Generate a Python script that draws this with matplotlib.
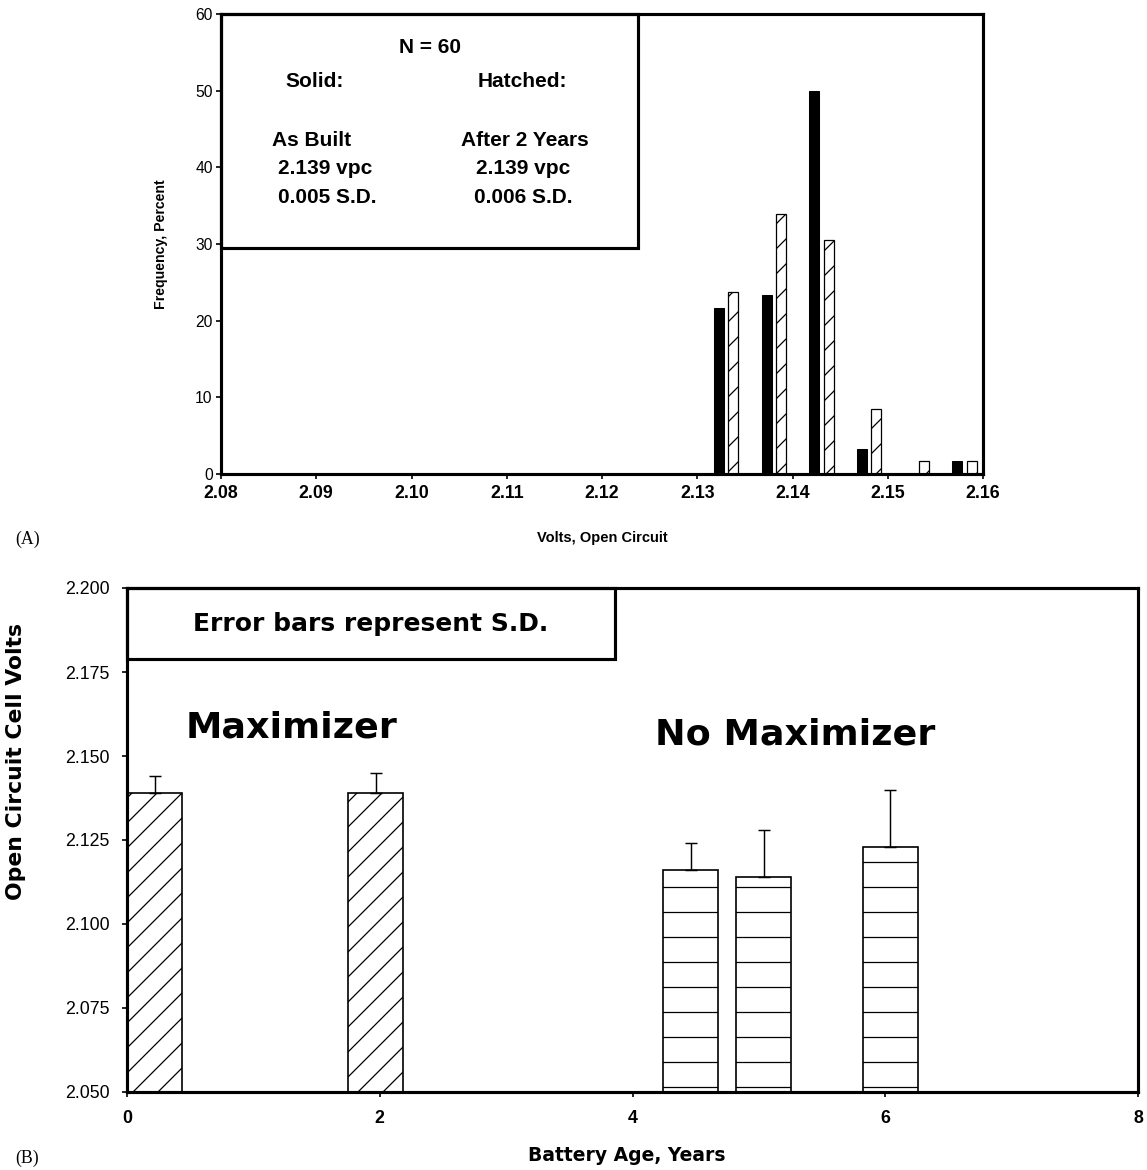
import numpy as np
import matplotlib.pyplot as plt
from matplotlib.patches import Rectangle

plt.rcParams['hatch.linewidth'] = 0.6
plt.rcParams['font.family'] = ['Liberation Sans', 'DejaVu Sans']

# (A) histogram of open circuit volts, percent of cells
volt_bins = [2.1325, 2.1375, 2.1425, 2.1475, 2.1525, 2.1575]
as_built = [21.7, 23.3, 50.0, 3.3, 0.0, 1.7]
after_2yr = [23.7, 33.9, 30.5, 8.5, 1.7, 1.7]
volt_ticks = [2.08, 2.09, 2.10, 2.11, 2.12, 2.13, 2.14, 2.15, 2.16]

# (B) mean open circuit volts vs battery age
age_max = [0.22, 1.97]
volts_max = [2.139, 2.139]
sd_max = [0.005, 0.006]
age_nomax = [4.46, 5.04, 6.04]
volts_nomax = [2.116, 2.114, 2.123]
sd_nomax = [0.008, 0.014, 0.017]
volt_yticks = [2.05, 2.075, 2.1, 2.125, 2.15, 2.175, 2.2]

fig = plt.figure(figsize=(1147 / 150, 1170 / 150), dpi=150)

# ---------- panel A ----------
ax1 = fig.add_axes([221 / 1147, 1 - 474 / 1170, 762 / 1147, 460 / 1170])
x = np.array(volt_bins)
w = 0.00105
ax1.bar(x - 0.0002, as_built, width=w, color='black', edgecolor='black', linewidth=0.5)
ax1.bar(x + 0.0013, after_2yr, width=w, color='white', edgecolor='black',
        linewidth=0.6, hatch='//')
ax1.set_xlim(2.08, 2.16)
ax1.set_ylim(0, 60)
ax1.set_xticks(volt_ticks)
ax1.set_xticklabels(['%.2f' % v for v in volt_ticks], fontsize=8.5, fontweight='bold')
ax1.set_yticks(range(0, 61, 10))
ax1.tick_params(axis='y', labelsize=7.5, length=2.5, width=0.8, direction='out', pad=1.5)
ax1.tick_params(axis='x', length=2.5, width=0.8, direction='out', pad=3)
for s in ax1.spines.values():
    s.set_linewidth(1.5)
ax1.set_xlabel('Volts, Open Circuit', fontsize=7, fontweight='bold')
ax1.xaxis.set_label_coords(0.5, -0.123)
ax1.set_ylabel('Frequency, Percent', fontsize=6.8, fontweight='bold')
ax1.yaxis.set_label_coords(-0.07, 0.5)

ax1.add_patch(Rectangle((2.08, 29.5), 0.0438, 30.5, fill=False, edgecolor='black',
                        linewidth=1.5, clip_on=False, zorder=3))
box_font = dict(fontsize=10, fontweight='bold', ha='center', va='center',
                transform=ax1.transAxes)
ax1.text(0.274, 0.928, 'N = 60', **box_font)
ax1.text(0.123, 0.854, 'Solid:', **box_font)
ax1.text(0.396, 0.854, 'Hatched:', **box_font)
ax1.text(0.119, 0.726, 'As Built', **box_font)
ax1.text(0.399, 0.726, 'After 2 Years', **box_font)
ax1.text(0.136, 0.665, '2.139 vpc', **box_font)
ax1.text(0.139, 0.602, '0.005 S.D.', **box_font)
ax1.text(0.396, 0.665, '2.139 vpc', **box_font)
ax1.text(0.396, 0.602, '0.006 S.D.', **box_font)

fig.text(15 / 1147, 1 - 539 / 1170, '(A)', fontsize=8.5, family='Liberation Serif',
         va='center', ha='left')

# ---------- panel B ----------
ax2 = fig.add_axes([127 / 1147, 1 - 1092 / 1170, 1011 / 1147, 504 / 1170])
bw = 0.435
err_style = dict(elinewidth=0.7, capthick=0.7, ecolor='black')
ax2.bar(age_max, np.array(volts_max) - 2.05, bottom=2.05, width=bw, color='white',
        edgecolor='black', linewidth=0.8, hatch='//',
        yerr=[np.zeros(len(sd_max)), sd_max], capsize=3, error_kw=err_style)
ax2.bar(age_nomax, np.array(volts_nomax) - 2.05, bottom=2.05, width=bw, color='white',
        edgecolor='black', linewidth=0.8, hatch='-',
        yerr=[np.zeros(len(sd_nomax)), sd_nomax], capsize=3, error_kw=err_style)
ax2.set_xlim(0, 8)
ax2.set_ylim(2.05, 2.2)
ax2.set_xticks([0, 2, 4, 6, 8])
ax2.set_xticklabels(['0', '2', '4', '6', '8'], fontsize=8.5, fontweight='bold')
ax2.set_yticks(volt_yticks)
ax2.set_yticklabels(['%.3f' % v for v in volt_yticks], fontsize=8.5)
ax2.tick_params(length=2.5, width=0.8, direction='out')
ax2.tick_params(axis='x', pad=6)
ax2.tick_params(axis='y', pad=6)
for s in ax2.spines.values():
    s.set_linewidth(1.5)
ax2.set_xlabel('Battery Age, Years', fontsize=9, fontweight='bold',
               family='DejaVu Sans')
ax2.xaxis.set_label_coords(0.494, -0.108)
ax2.set_ylabel('Open Circuit Cell Volts', fontsize=10.5, fontweight='bold',
               family='DejaVu Sans')
ax2.yaxis.set_label_coords(-0.1, 0.655)

ax2.add_patch(Rectangle((0, 2.179), 3.86, 0.021, fill=False, edgecolor='black',
                        linewidth=1.5, clip_on=False, zorder=3))
ax2.text(1.93, 2.1893, 'Error bars represent S.D.', fontsize=12, fontweight='bold',
         family='DejaVu Sans', ha='center', va='center')
ax2.text(1.305, 2.1586, 'Maximizer', fontsize=17.5, fontweight='bold',
         family='DejaVu Sans', ha='center', va='center')
ax2.text(5.29, 2.1563, 'No Maximizer', fontsize=17.5, fontweight='bold',
         family='DejaVu Sans', ha='center', va='center')

fig.text(15 / 1147, 1 - 1158 / 1170, '(B)', fontsize=8.5, family='Liberation Serif',
         va='center', ha='left')

fig.savefig('out.png', dpi=150)
